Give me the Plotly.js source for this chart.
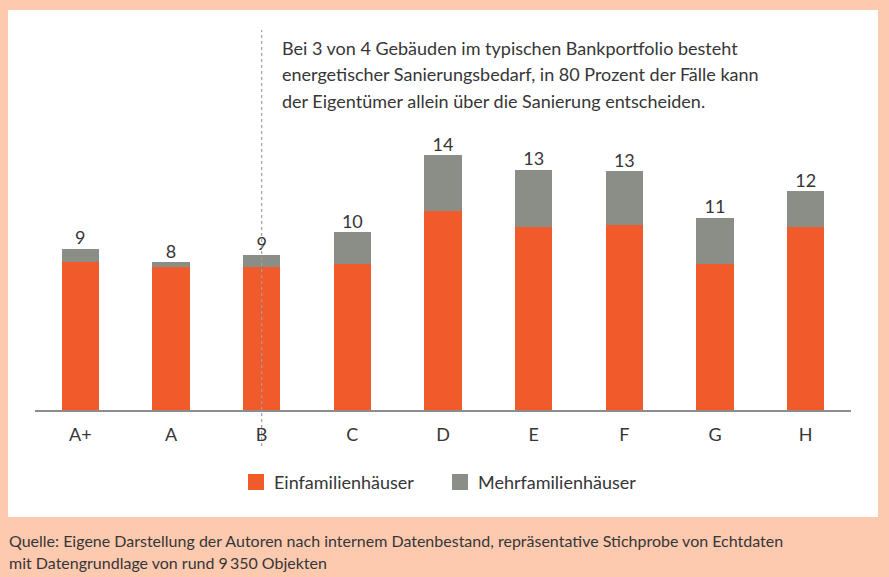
<!DOCTYPE html>
<html>
<head>
<meta charset="utf-8">
<script src="https://cdn.plot.ly/plotly-3.0.1.min.js"></script>
<style>html,body{margin:0;padding:0;background:#FDCAB0;}#chart{width:889px;height:577px;}</style>
</head>
<body>
<div id="chart"></div>
<script>
// ---- data ----
const categories = ["A+", "A", "B", "C", "D", "E", "F", "G", "H"];
const einfamilien = [8.13, 7.86, 7.86, 8.02, 10.93, 10.05, 10.16, 8.02, 10.05];
const mehrfamilien = [0.72, 0.27, 0.66, 1.76, 3.08, 3.14, 2.97, 2.53, 1.98];
const totalLabels = ["9", "8", "9", "10", "14", "13", "13", "11", "12"];
const seriesNames = ["Einfamilienhäuser", "Mehrfamilienhäuser"];
const seriesColors = ["#F15A2B", "#8A8E86"];
const noteLines = [
  "Bei 3 von 4 Gebäuden im typischen Bankportfolio besteht",
  "energetischer Sanierungsbedarf, in 80 Prozent der Fälle kann",
  "der Eigentümer allein über die Sanierung entscheiden."
];
const sourceLines = [
  "Quelle: Eigene Darstellung der Autoren nach internem Datenbestand, repräsentative Stichprobe von Echtdaten",
  "mit Datengrundlage von rund 9\u2009350 Objekten"
];
const markedCategory = "B";

// ---- layout geometry (pixels) ----
const W = 889, Hh = 577;
const L = 35, R = 38, T = 20, B = 167;
const PW = W - L - R, PH = Hh - T - B;
const px = x => (x - L) / PW;
const py = y => (T + PH - y) / PH;

const FONT = "Lato, 'Open Sans', sans-serif";
const TXT = "#363636";
const totals = einfamilien.map((v, i) => v + mehrfamilien[i]);

const traces = [
  {type: "bar", name: seriesNames[0], x: categories, y: einfamilien,
   marker: {color: seriesColors[0]}, hoverinfo: "skip"},
  {type: "bar", name: seriesNames[1], x: categories, y: mehrfamilien,
   marker: {color: seriesColors[1]}, hoverinfo: "skip"},
  {type: "scatter", mode: "text", x: categories, y: totals, text: totalLabels,
   textposition: "top center", textfont: {family: FONT, size: 18, color: TXT},
   showlegend: false, hoverinfo: "skip", cliponaxis: false}
];

// custom legend (square swatches + labels)
const legendItems = [{sx: 248, tx: 272}, {sx: 452, tx: 476}];

const annotations = noteLines.map((t, i) => ({
  xref: "paper", yref: "paper", x: px(280), y: py(48 + i * 26.5),
  xanchor: "left", yanchor: "middle", text: t, showarrow: false,
  font: {family: FONT, size: 18, color: TXT}
})).concat(sourceLines.map((t, i) => ({
  xref: "paper", yref: "paper", x: px(7), y: py(540 + i * 22),
  xanchor: "left", yanchor: "middle", text: t, showarrow: false,
  font: {family: FONT, size: 16, color: TXT}
}))).concat(legendItems.map((it, i) => ({
  xref: "paper", yref: "paper", x: px(it.tx), y: py(482),
  xanchor: "left", yanchor: "middle", text: seriesNames[i], showarrow: false,
  font: {family: FONT, size: 18, color: TXT}
})));

const shapes = [
  {type: "rect", xref: "paper", yref: "paper", layer: "below",
   x0: px(8), x1: px(878), y0: py(517), y1: py(10),
   fillcolor: "#FFFFFF", line: {width: 0}},
  {type: "line", xref: "x", yref: "paper",
   x0: categories.indexOf(markedCategory), x1: categories.indexOf(markedCategory),
   y0: py(446), y1: py(30),
   line: {color: "#A0A0A0", width: 1.2, dash: "3px,3px"}}
].concat(legendItems.map((it, i) => ({
  type: "rect", xref: "paper", yref: "paper",
  x0: px(it.sx), x1: px(it.sx + 16), y0: py(490), y1: py(474),
  fillcolor: seriesColors[i], line: {width: 0}
})));

const layout = {
  width: W, height: Hh,
  margin: {l: L, r: R, t: T, b: B},
  paper_bgcolor: "#FDCAB0",
  plot_bgcolor: "rgba(0,0,0,0)",
  barmode: "stack",
  bargap: 0.59,
  font: {family: FONT, color: TXT},
  showlegend: false,
  xaxis: {type: "category", showline: true, linecolor: "#8C8C8C", linewidth: 2,
          showgrid: false, zeroline: false, ticks: "", fixedrange: true,
          ticklabelstandoff: 7,
          tickfont: {family: FONT, size: 18, color: TXT}},
  yaxis: {range: [0, PH / 18.2], visible: false, showgrid: false, zeroline: false, fixedrange: true},
  annotations: annotations,
  shapes: shapes
};

Plotly.newPlot("chart", traces, layout, {displayModeBar: false, staticPlot: true});
</script>
</body>
</html>
